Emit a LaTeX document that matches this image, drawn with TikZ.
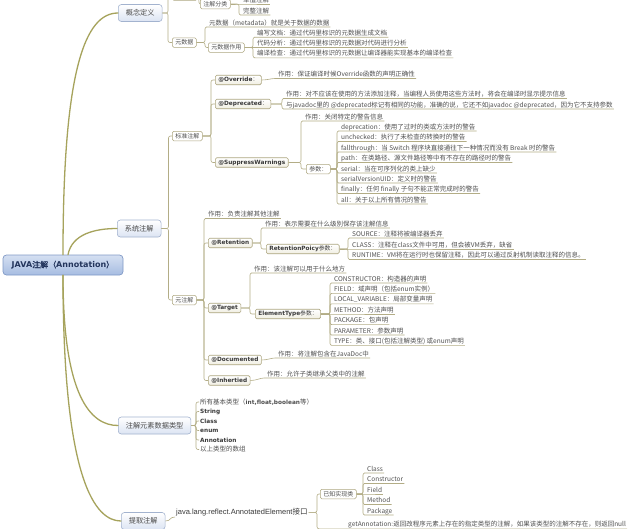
\documentclass[tikz,border=0pt]{standalone}
\usepackage{fontspec}
\setmainfont{Noto Sans CJK SC}
\newfontfamily\bsans{DejaVu Sans}
\newfontfamily\asans{Liberation Sans}
\newfontfamily\cjkb{Noto Sans CJK SC}[FakeBold=1.5]
\usetikzlibrary{calc}
\definecolor{mainc}{HTML}{A6A35C}
\definecolor{subc}{HTML}{B3AD86}
\definecolor{leafc}{HTML}{4F4F4F}
\definecolor{boxc}{HTML}{ADA680}
\definecolor{acream}{HTML}{F0EEE2}
\definecolor{darkc}{HTML}{3A3A3A}
\definecolor{tbord}{HTML}{A3B3CF}
\definecolor{tfill}{HTML}{DCE4F3}
\definecolor{ttext}{HTML}{4A4A4A}
\definecolor{rtop}{HTML}{D5E0F2}
\definecolor{rbot}{HTML}{A6BCE1}
\definecolor{rbord}{HTML}{8099C6}
\definecolor{rtext}{HTML}{22345C}
\newcommand\lk[3]{\draw[sub] (#1.east) -| (#3 |- #2.south west) -- (#2.south west) -- (#2.south east);}
\newcommand\lkd[2]{\draw[sub] (#1.east) -- (#2.south west) -- (#2.south east);}
\newcommand\bk[3]{\draw[sub] (#1.east) -| (#3 |- #2.west) -- (#2.west);}
\newcommand\ik[3]{\draw[sub] (#1.east) -| (#3 |- #2.west) -- (#2.west);}
\newcommand\sk[2]{\draw[sub] (#1.east) .. controls +(6,0) and +(-6,0) .. (#2.south west) -- (#2.south east);}
\tikzset{
 main/.style={draw=mainc, line width=1.3pt, line cap=round},
 sub/.style={draw=subc, line width=0.6pt, rounded corners=2pt},
 leaf/.style={anchor=south west, inner xsep=1pt, inner ysep=0.5pt, text height=5pt, text depth=1.2pt, font=\fontsize{6.5}{7}\selectfont, text=leafc},
 item/.style={anchor=west, inner xsep=1pt, inner ysep=0.5pt, font=\fontsize{6.5}{7}\selectfont, text=leafc},
 bitem/.style={item, font=\bsans\bfseries\fontsize{5.8}{7}\selectfont, text=darkc},
 sbox/.style={anchor=west, draw=boxc, line width=0.5pt, fill=white, rounded corners=1.5pt, inner xsep=3pt, inner ysep=0pt, minimum height=9.5pt, font=\fontsize{6}{7}\selectfont, text=leafc},
 abox/.style={anchor=west, draw=boxc, line width=0.6pt, top color=white, bottom color=acream, rounded corners=1.5pt, inner xsep=3pt, inner ysep=0pt, minimum height=9.5pt, font=\bsans\bfseries\fontsize{5.8}{7}\selectfont, text=darkc},
 tbox/.style={anchor=west, draw=tbord, line width=0.6pt, top color=white, bottom color=tfill, rounded corners=3pt, inner xsep=7.5pt, inner ysep=0pt, minimum height=17pt, font=\fontsize{7.2}{8}\selectfont, text=ttext},
 rootbox/.style={draw=rbord, line width=0.7pt, top color=rtop, bottom color=rbot, rounded corners=3.5pt, minimum width=120pt, minimum height=20pt, inner sep=0pt, font=\fontsize{8}{9}\selectfont, text=rtext},
}
\begin{document}
\begin{tikzpicture}[x=1pt,y=-1pt]
\useasboundingbox (0,0) rectangle (640,528);
\fill[white] (0,0) rectangle (640,528);
\clip (0,0) rectangle (640,528);
% spine coordinates
\coordinate (sA) at (168,0);
\coordinate (sB) at (205,0);
\coordinate (sC) at (253,0);
\coordinate (sD) at (239,0);
\coordinate (sE) at (168.5,0);
\coordinate (sF) at (211,0);
\coordinate (sG) at (282,0);
\coordinate (sH) at (301,0);
\coordinate (sI) at (337,0);
\coordinate (sJ) at (204,0);
\coordinate (sK) at (261,0);
\coordinate (sL) at (348,0);
\coordinate (sM) at (250,0);
\coordinate (sN) at (330,0);
\coordinate (sO) at (196,0);
\coordinate (sP) at (317,0);
\coordinate (sQ) at (363,0);
% root and main topics
\node[rootbox] (root) at (63,265) {{\bsans\bfseries JAVA}{\cjkb 注解（}{\bsans\bfseries Annotation}{\cjkb ）}};
\node[tbox] (t1) at (118,13) {概念定义};
\node[tbox] (t2) at (117,228.5) {系统注解};
\node[tbox] (t3) at (118,425.5) {注解元素数据类型};
\node[tbox] (t4) at (121,521) {提取注解};
% 概念定义
\node[sbox, minimum width=25pt] (ct) at (172,-4.5) {};
\node[sbox] (zf) at (200,4) {注解分类};
\node[leaf] (dz) at (242,4) {单值注解};
\node[leaf] (wz) at (242,15) {完整注解};
\node[sbox] (ys) at (172,42.5) {元数据};
\node[leaf] (md) at (208,27) {元数据（metadata）就是关于数据的数据};
\node[sbox] (yz) at (208,47.5) {元数据作用};
\node[leaf] (bx) at (256,37.2) {编写文档：通过代码里标识的元数据生成文档};
\node[leaf] (dm) at (256,47.5) {代码分析：通过代码里标识的元数据对代码进行分析};
\node[leaf] (by) at (256,57.8) {编译检查：通过代码里标识的元数据让编译器能实现基本的编译检查};
% 标准注解
\node[sbox] (bz) at (172,136) {标准注解};
\node[abox] (ov) at (215,80) {@Override{\normalfont ：}};
\node[leaf] (ovl) at (277,78.5) {作用：保证编译时候Override函数的声明正确性};
\node[abox] (dp) at (215,104) {@Deprecated{\normalfont ：}};
\node[leaf] (dp1) at (285,98.5) {作用：对不应该在使用的方法添加注释，当编程人员使用这些方法时，将会在编译时显示提示信息};
\node[leaf] (dp2) at (285,109) {与javadoc里的 @deprecated标记有相同的功能，准确的说，它还不如javadoc @deprecated，因为它不支持参数};
\node[abox] (sw) at (215,162.5) {@SuppressWarnings};
\node[leaf] (swl) at (304,121) {作用：关闭特定的警告信息};
\node[sbox] (cs) at (306,169) {参数：};
\node[leaf] (p1) at (340,131) {deprecation：使用了过时的类或方法时的警告};
\node[leaf] (p2) at (340,141.5) {unchecked：执行了未检查的转换时的警告};
\node[leaf] (p3) at (340,152) {fallthrough：当 Switch 程序块直接通往下一种情况而没有 Break 时的警告};
\node[leaf] (p4) at (340,162.5) {path：在类路径、源文件路径等中有不存在的路径时的警告};
\node[leaf] (p5) at (340,173) {serial：当在可序列化的类上缺少};
\node[leaf] (p6) at (340,183) {serialVersionUID：定义时的警告};
\node[leaf] (p7) at (340,193.5) {finally：任何 finally 子句不能正常完成时的警告};
\node[leaf] (p8) at (340,204) {all：关于以上所有情况的警告};
% 元注解
\node[sbox] (yzj) at (172,300) {元注解};
\node[leaf] (yzl) at (207,218.5) {作用：负责注解其他注解};
\node[abox] (rt) at (208,243) {@Retention};
\node[leaf] (rtl) at (264,228) {作用：表示需要在什么级别保存该注解信息};
\node[abox] (rp) at (266,249) {RetentionPoicy{\normalfont 参数：}};
\node[leaf] (r1) at (351,238) {SOURCE：注释将被编译器丢弃};
\node[leaf] (r2) at (351,249) {CLASS：注释在class文件中可用，但会被VM丢弃，缺省};
\node[leaf] (r3) at (351,259.5) {RUNTIME：VM将在运行时也保留注释，因此可以通过反射机制读取注释的信息。};
\node[abox] (tg) at (208,308) {@Target};
\node[leaf] (tgl) at (253,273) {作用：该注解可以用于什么地方};
\node[abox] (et) at (255,314) {ElementType{\normalfont 参数：}};
\node[leaf] (e1) at (333,283) {CONSTRUCTOR：构造器的声明};
\node[leaf] (e2) at (333,293.4) {FIELD：域声明（包括enum实例）};
\node[leaf] (e3) at (333,303.8) {LOCAL\_VARIABLE：局部变量声明};
\node[leaf] (e4) at (333,314) {METHOD：方法声明};
\node[leaf] (e5) at (333,324.6) {PACKAGE：包声明};
\node[leaf] (e6) at (333,335) {PARAMETER：参数声明};
\node[leaf] (e7) at (333,345.4) {TYPE：类、接口(包括注解类型) 或enum声明};
\node[abox] (dc) at (208,360) {@Documented};
\node[leaf] (dcl) at (277,358) {作用：将注解包含在JavaDoc中};
\node[abox] (ih) at (208,380.5) {@Inhertied};
\node[leaf] (ihl) at (266,378) {作用：允许子类继承父类中的注解};
% 注解元素数据类型
\node[item] (d1) at (199,402) {所有基本类型（{\bsans\bfseries\fontsize{5.8}{7}\selectfont int,float,boolean}等）};
\node[bitem] (d2) at (199,411.5) {String};
\node[bitem] (d3) at (199,421) {Class};
\node[bitem] (d4) at (199,430.5) {enum};
\node[bitem] (d5) at (199,440) {Annotation};
\node[item] (d6) at (199,449.5) {以上类型的数组};
% 提取注解
\node[anchor=south west, inner xsep=1pt, inner ysep=0.5pt, font=\asans\fontsize{7.5}{8}\selectfont, text=darkc] (jl) at (175,517) {java.lang.reflect.AnnotatedElement{\normalfont 接口}};
\node[sbox] (yk) at (320,494) {已知实现类};
\node[leaf] (k1) at (366,473) {Class};
\node[leaf] (k2) at (366,483.5) {Constructor};
\node[leaf] (k3) at (366,494) {Field};
\node[leaf] (k4) at (366,504.5) {Method};
\node[leaf] (k5) at (366,515) {Package};
\node[leaf] (ga) at (347,528.8) {getAnnotation:返回改程序元素上存在的指定类型的注解，如果该类型的注解不存在，则返回null};
% main branches
\draw[main] (root.north) .. controls (63,70) and (85,13) .. (t1.west);
\draw[main] ($(root.north)+(5,0)$) .. controls (72,234) and (95,228.5) .. (t2.west);
\draw[main] (root.south) .. controls (63,395) and (90,425.5) .. (t3.west);
\draw[main] (root.south) .. controls (63,480) and (95,521) .. (t4.west);
% 概念定义 connectors
\bk{t1}{ct}{sA} \bk{t1}{ys}{sA}
\draw[sub] (ct.east) .. controls +(2,0) and +(-2,0) .. (zf.west);
\lkd{zf}{dz} \lk{zf}{wz}{sD}
\lk{ys}{md}{sB} \bk{ys}{yz}{sB}
\lk{yz}{bx}{sC} \lkd{yz}{dm} \lk{yz}{by}{sC}
% 系统注解 connectors
\bk{t2}{bz}{sE} \bk{t2}{yzj}{sE}
\bk{bz}{ov}{sF} \bk{bz}{dp}{sF} \bk{bz}{sw}{sF}
\sk{ov}{ovl}
\lk{dp}{dp1}{sG} \lk{dp}{dp2}{sG}
\lk{sw}{swl}{sH} \bk{sw}{cs}{sH}
\lk{cs}{p1}{sI} \lk{cs}{p2}{sI} \lk{cs}{p3}{sI} \lk{cs}{p4}{sI}
\lk{cs}{p5}{sI} \lk{cs}{p6}{sI} \lk{cs}{p7}{sI} \lk{cs}{p8}{sI}
\lk{yzj}{yzl}{sJ} \bk{yzj}{rt}{sJ} \bk{yzj}{tg}{sJ} \bk{yzj}{dc}{sJ} \bk{yzj}{ih}{sJ}
\lk{rt}{rtl}{sK} \bk{rt}{rp}{sK}
\lk{rp}{r1}{sL} \lkd{rp}{r2} \lk{rp}{r3}{sL}
\lk{tg}{tgl}{sM} \bk{tg}{et}{sM}
\lk{et}{e1}{sN} \lk{et}{e2}{sN} \lk{et}{e3}{sN} \lkd{et}{e4}
\lk{et}{e5}{sN} \lk{et}{e6}{sN} \lk{et}{e7}{sN}
\sk{dc}{dcl}
\sk{ih}{ihl}
% 注解元素数据类型 connectors
\ik{t3}{d1}{sO} \ik{t3}{d2}{sO} \ik{t3}{d3}{sO}
\ik{t3}{d4}{sO} \ik{t3}{d5}{sO} \ik{t3}{d6}{sO}
% 提取注解 connectors
\draw[sub] (t4.east) .. controls +(6,0) and +(-6,0) .. (jl.south west);
\bk{jl}{yk}{sP}
\lk{jl}{ga}{sP}
\lk{yk}{k1}{sQ} \lk{yk}{k2}{sQ} \lkd{yk}{k3} \lk{yk}{k4}{sQ} \lk{yk}{k5}{sQ}
\end{tikzpicture}
\end{document}
